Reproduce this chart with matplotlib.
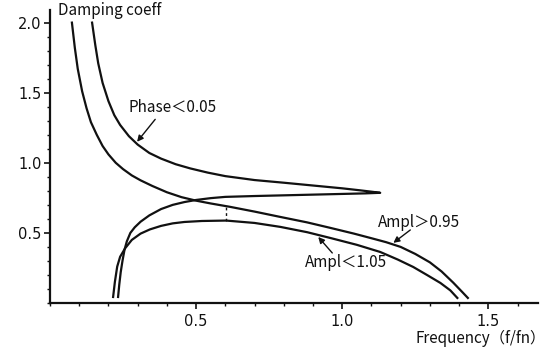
import matplotlib
matplotlib.use('Agg')
from matplotlib import pyplot as plt
from matplotlib.ticker import MultipleLocator, FixedLocator

plt.rcParams['font.family'] = ['Noto Sans CJK JP', 'DejaVu Sans']

# phase < 0.05 boundary: upper branch down to the tip, then the lower branch back to the bottom
phase_x = [0.144, 0.155, 0.165, 0.18, 0.20, 0.22, 0.24, 0.27, 0.30, 0.34, 0.38, 0.43, 0.48, 0.54,
           0.60, 0.70, 0.80, 0.90, 1.00, 1.06, 1.10, 1.13,
           1.08, 1.00, 0.90, 0.80, 0.70, 0.60, 0.55, 0.50, 0.46, 0.42, 0.38, 0.34, 0.31, 0.29,
           0.275, 0.263, 0.255, 0.248, 0.242, 0.237, 0.233]
phase_y = [2.00, 1.84, 1.71, 1.57, 1.44, 1.34, 1.27, 1.19, 1.13, 1.07, 1.03, 0.99, 0.96, 0.93,
           0.905, 0.877, 0.858, 0.838, 0.818, 0.804, 0.794, 0.786,
           0.782, 0.778, 0.773, 0.768, 0.763, 0.757, 0.748, 0.735, 0.72, 0.70, 0.67, 0.625, 0.58, 0.54,
           0.50, 0.44, 0.38, 0.30, 0.22, 0.13, 0.043]

# amplitude > 0.95 boundary
amp_hi_x = [0.075, 0.085, 0.095, 0.11, 0.125, 0.14, 0.16, 0.18, 0.20, 0.225, 0.25, 0.28, 0.31, 0.35,
            0.40, 0.45, 0.50, 0.55, 0.616, 0.70, 0.788, 0.88, 0.959, 1.04, 1.10, 1.15, 1.20, 1.25,
            1.30, 1.34, 1.38, 1.41, 1.43]
amp_hi_y = [2.00, 1.82, 1.67, 1.51, 1.39, 1.29, 1.20, 1.12, 1.06, 1.00, 0.955, 0.91, 0.875, 0.835,
            0.79, 0.755, 0.73, 0.71, 0.686, 0.652, 0.614, 0.575, 0.536, 0.495, 0.462, 0.434, 0.40, 0.35,
            0.29, 0.225, 0.145, 0.08, 0.036]

# amplitude < 1.05 boundary
amp_lo_x = [0.216, 0.222, 0.23, 0.24, 0.257, 0.28, 0.31, 0.342, 0.38, 0.42, 0.46, 0.52, 0.603, 0.70,
            0.788, 0.88, 0.959, 1.05, 1.13, 1.19, 1.243, 1.29, 1.336, 1.37, 1.394]
amp_lo_y = [0.043, 0.15, 0.26, 0.33, 0.39, 0.45, 0.495, 0.525, 0.55, 0.568, 0.578, 0.585, 0.588, 0.571,
            0.543, 0.505, 0.464, 0.415, 0.364, 0.31, 0.257, 0.20, 0.143, 0.09, 0.036]

# dashed marker between the two amplitude curves
dash_x = 0.603
dash_y = [0.588, 0.685]

x_ticks = [0.5, 1.0, 1.5]
y_ticks = [0.5, 1.0, 1.5, 2.0]

ink = '#111111'
fig = plt.figure(figsize=(5.55, 3.49), dpi=100)
ax = fig.add_axes([50 / 555, 46 / 349, 488 / 555, 293 / 349])

lw = 1.6
ax.plot(phase_x, phase_y, color=ink, lw=lw, solid_joinstyle='round')
ax.plot(amp_hi_x, amp_hi_y, color=ink, lw=lw, solid_joinstyle='round')
ax.plot(amp_lo_x, amp_lo_y, color=ink, lw=lw, solid_joinstyle='round')
ax.vlines(dash_x, dash_y[0], dash_y[1], colors=ink, linestyles=(0, (2, 2)), lw=1.0)

ax.set_xlim(0, 1.67)
ax.set_ylim(0, 2.09)
ax.spines['top'].set_visible(False)
ax.spines['right'].set_visible(False)
for s in ['left', 'bottom']:
    ax.spines[s].set_linewidth(1.6)
    ax.spines[s].set_color(ink)

ax.xaxis.set_major_locator(FixedLocator(x_ticks))
ax.yaxis.set_major_locator(FixedLocator(y_ticks))
ax.xaxis.set_minor_locator(MultipleLocator(0.1))
ax.yaxis.set_minor_locator(MultipleLocator(0.1))
ax.set_xticklabels(['%.1f' % v for v in x_ticks], family='DejaVu Sans')
ax.set_yticklabels(['%.1f' % v for v in y_ticks], family='DejaVu Sans')
ax.tick_params(which='major', direction='out', length=4, width=1.2, labelsize=10.5, colors=ink)
ax.tick_params(axis='x', which='major', pad=4)
ax.tick_params(axis='y', which='major', pad=2)
ax.tick_params(which='minor', direction='out', length=2.5, width=1.0, colors=ink)

ax.text(0.027, 2.086, 'Damping coeff', fontsize=11, ha='left', va='center', color=ink, clip_on=False)
ax.text(1.695, -0.25, 'Frequency（f/fn）', fontsize=11, ha='right', va='center', color=ink, clip_on=False)

arrow = dict(arrowstyle='-|>', color=ink, lw=1.0, mutation_scale=9, shrinkA=0, shrinkB=0)
ax.text(0.267, 1.393, 'Phase＜0.05', fontsize=11, ha='left', va='center', color=ink)
ax.annotate('', xy=(0.298, 1.15), xytext=(0.36, 1.31), arrowprops=arrow)
ax.text(1.123, 0.571, 'Ampl＞0.95', fontsize=11, ha='left', va='center', color=ink)
ax.annotate('', xy=(1.175, 0.429), xytext=(1.233, 0.521), arrowprops=arrow)
ax.text(0.873, 0.286, 'Ampl＜1.05', fontsize=11, ha='left', va='center', color=ink)
ax.annotate('', xy=(0.918, 0.471), xytext=(0.966, 0.357), arrowprops=arrow)

fig.savefig('out.png', dpi=100)
